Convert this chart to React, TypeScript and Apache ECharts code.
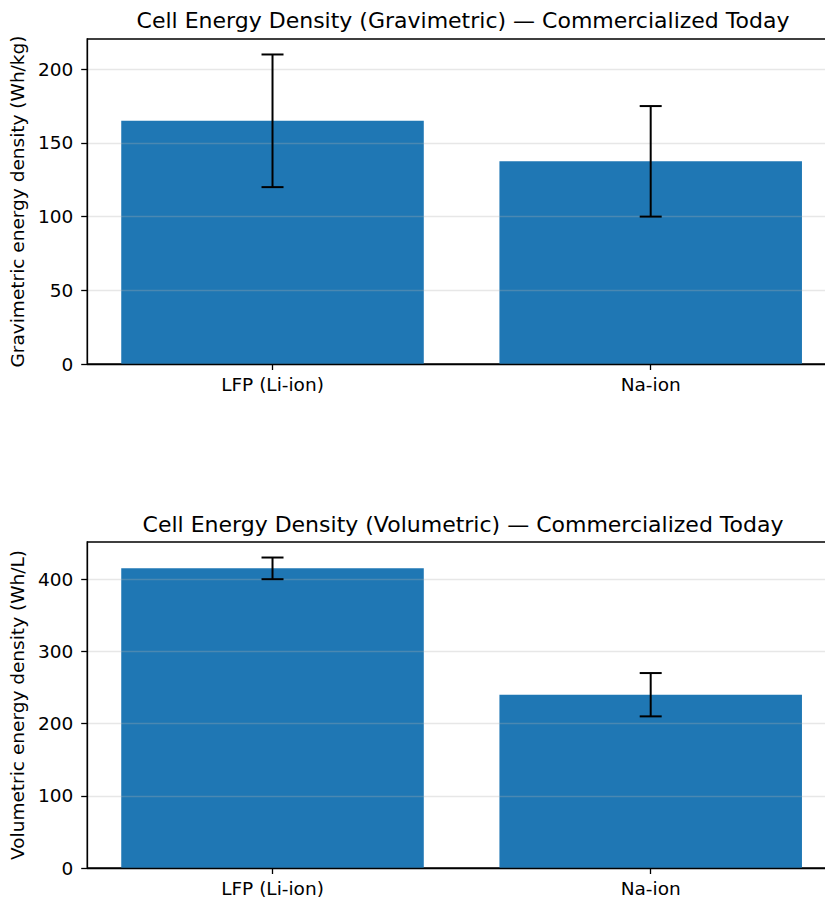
import React, { useEffect, useRef } from "react";
import * as echarts from "echarts";

const categories = ["LFP (Li-ion)", "Na-ion"];
const gravValues = [165, 137.5];
const gravLow = [120, 100];
const gravHigh = [210, 175];
const volValues = [415, 240];
const volLow = [400, 210];
const volHigh = [430, 270];
const gravTicks = [0, 50, 100, 150, 200];
const volTicks = [0, 100, 200, 300, 400];

const FONT = "DejaVu Sans";
const TICK_FS = 18.5;
const BAR_W = 0.8; // in category units

function errorSeries(xIdx: number, low: number[], high: number[]) {
  return {
    type: "custom",
    xAxisIndex: xIdx,
    yAxisIndex: xIdx,
    z: 10,
    data: low.map((l, i) => [i, l, high[i]]),
    renderItem: (params: any, api: any) => {
      const x = api.value(0);
      const lo = api.coord([x, api.value(1)]);
      const hi = api.coord([x, api.value(2)]);
      const cap = 11;
      const style = { stroke: "#000", lineWidth: 2 };
      return {
        type: "group",
        children: [
          { type: "line", shape: { x1: lo[0], y1: lo[1], x2: hi[0], y2: hi[1] }, style },
          { type: "line", shape: { x1: lo[0] - cap, y1: lo[1], x2: lo[0] + cap, y2: lo[1] }, style },
          { type: "line", shape: { x1: hi[0] - cap, y1: hi[1], x2: hi[0] + cap, y2: hi[1] }, style },
        ],
      };
    },
  };
}

function barSeries(xIdx: number, values: number[]) {
  return {
    type: "custom",
    xAxisIndex: xIdx,
    yAxisIndex: xIdx,
    z: 2,
    data: values.map((v, i) => [i, v]),
    renderItem: (params: any, api: any) => {
      const x = api.value(0);
      const tl = api.coord([x - BAR_W / 2, api.value(1)]);
      const br = api.coord([x + BAR_W / 2, 0]);
      return {
        type: "rect",
        shape: { x: tl[0], y: tl[1], width: br[0] - tl[0], height: br[1] - tl[1] },
        style: { fill: "#1f77b4" },
      };
    },
  };
}

function yAxis(idx: number, max: number, interval: number, ticks: number[], name: string) {
  return {
    type: "value",
    gridIndex: idx,
    min: 0,
    max,
    interval,
    z: 3,
    name,
    nameLocation: "middle",
    nameGap: 54,
    nameTextStyle: { fontFamily: FONT, fontSize: TICK_FS, color: "#000" },
    axisLine: { show: true, onZero: false, lineStyle: { color: "#000", width: 1.3 } },
    axisTick: { show: true, length: 6, inside: false, customValues: ticks, lineStyle: { color: "#000", width: 1.3 } },
    axisLabel: { margin: 14, customValues: ticks, fontFamily: FONT, fontSize: TICK_FS, color: "#000" },
    splitLine: { show: true, lineStyle: { color: "rgba(176,176,176,0.3)", width: 1.3 } },
  };
}

function xAxis(idx: number) {
  const idxs = categories.map((_, i) => i);
  return {
    type: "value",
    gridIndex: idx,
    min: -0.49,
    max: 1.49,
    z: 3,
    axisLine: { show: true, onZero: false, lineStyle: { color: "#000", width: 1.3 } },
    axisTick: { show: true, customValues: idxs, length: 6, lineStyle: { color: "#000", width: 1.3 } },
    axisLabel: {
      margin: 11,
      customValues: idxs,
      formatter: (v: number) => categories[Math.round(v)] ?? "",
      fontFamily: FONT,
      fontSize: TICK_FS,
      color: "#000",
    },
    splitLine: { show: false },
  };
}

export default function App() {
  const ref = useRef<HTMLDivElement>(null);
  useEffect(() => {
    if (!ref.current) return;
    const chart = echarts.init(ref.current, undefined, { renderer: "svg" });
    chart.setOption({
      animation: false,
      backgroundColor: "#fff",
      textStyle: { fontFamily: FONT },
      graphic: [
        {
          type: "text",
          x: 463,
          y: 20,
          style: {
            text: "Cell Energy Density (Gravimetric) — Commercialized Today",
            fontFamily: FONT,
            fontSize: 22,
            fill: "#000",
            textAlign: "center",
            textVerticalAlign: "middle",
          },
        },
        {
          type: "text",
          x: 463,
          y: 524,
          style: {
            text: "Cell Energy Density (Volumetric) — Commercialized Today",
            fontFamily: FONT,
            fontSize: 22,
            fill: "#000",
            textAlign: "center",
            textVerticalAlign: "middle",
          },
        },
      ],
      grid: [
        { left: 87, top: 39, width: 749, height: 325, show: true, borderColor: "#000", borderWidth: 1.3, backgroundColor: "transparent" },
        { left: 87, top: 542, width: 749, height: 326, show: true, borderColor: "#000", borderWidth: 1.3, backgroundColor: "transparent" },
      ],
      xAxis: [xAxis(0), xAxis(1)],
      yAxis: [
        yAxis(0, 220.5, 50, gravTicks, "Gravimetric energy density (Wh/kg)"),
        yAxis(1, 451.5, 100, volTicks, "Volumetric energy density (Wh/L)"),
      ],
      series: [
        barSeries(0, gravValues),
        errorSeries(0, gravLow, gravHigh),
        barSeries(1, volValues),
        errorSeries(1, volLow, volHigh),
      ],
    });
    return () => chart.dispose();
  }, []);
  return (
    <div style={{ position: "absolute", left: 0, top: 0, width: 825, height: 900, overflow: "hidden", background: "#fff" }}>
      <div ref={ref} style={{ width: 850, height: 900 }} />
    </div>
  );
}
